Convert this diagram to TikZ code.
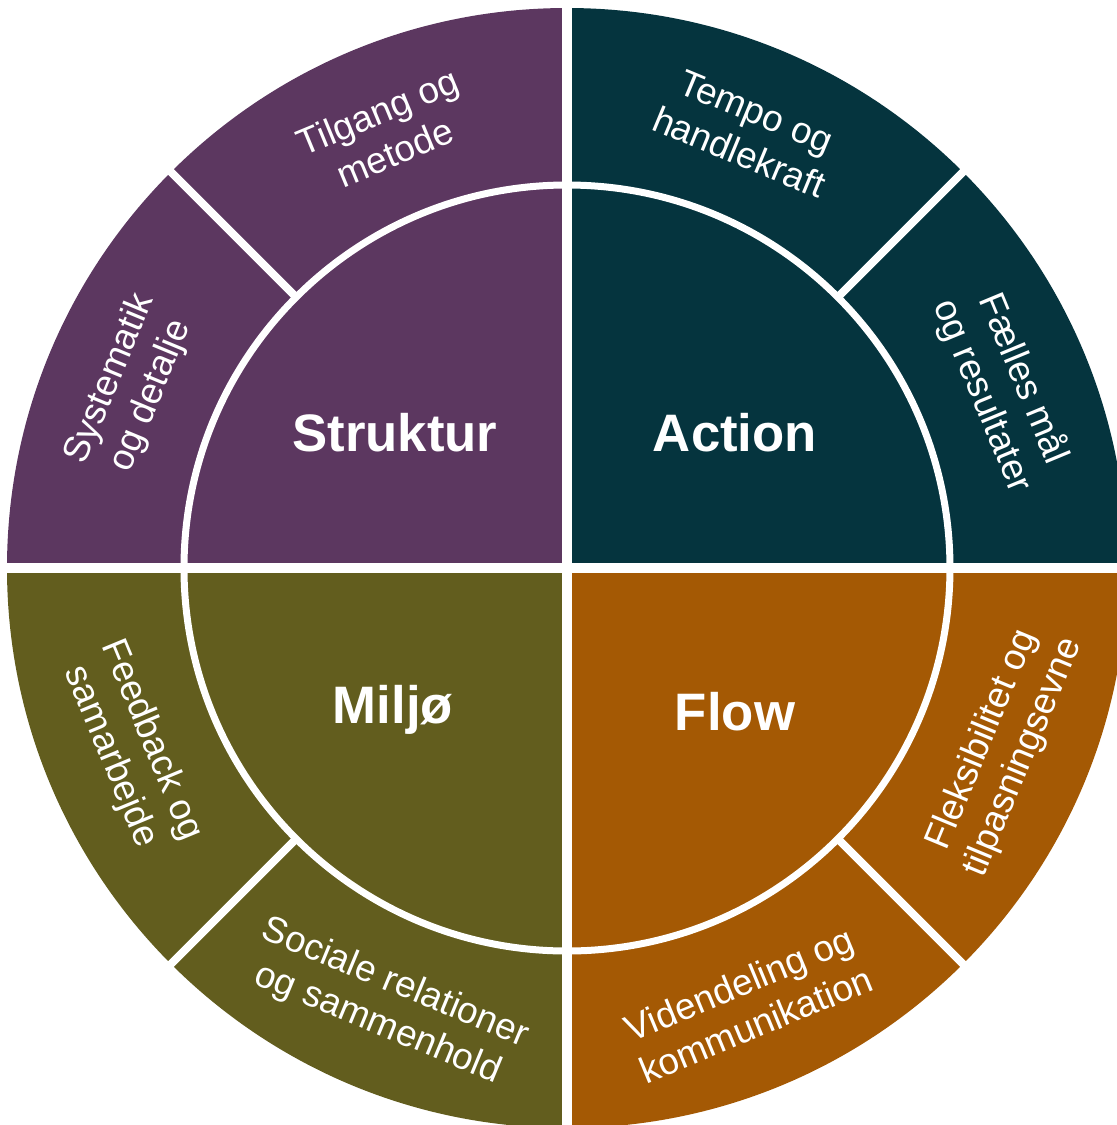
\documentclass[tikz,border=0pt]{standalone}
\usepackage{fontspec}
\setmainfont{Liberation Sans}
\usetikzlibrary{positioning}
\definecolor{strukturcol}{RGB}{92,55,96}
\definecolor{actioncol}{RGB}{5,52,62}
\definecolor{miljocol}{RGB}{98,93,30}
\definecolor{flowcol}{RGB}{164,89,4}

\begin{document}
\begin{tikzpicture}[
  core/.style={font=\fontsize{15}{18}\selectfont\bfseries, text=white, inner sep=0pt},
  seg/.style={font=\fontsize{10.5}{12.6}\selectfont, text=white, align=center, inner sep=0pt},
  ring/.style={draw=white, line width=0.7mm},
  gap/.style={draw=white, line width=0.95mm},
  split/.style={draw=white, line width=0.8mm},
]
\useasboundingbox (-5.67,-5.57) rectangle (5.50,5.68);
% quadrants
\fill[strukturcol] (0,0) -- (90:5.6) arc[start angle=90, end angle=180, radius=5.6] -- cycle;
\fill[actioncol]   (0,0) -- (0:5.6)  arc[start angle=0, end angle=90, radius=5.6] -- cycle;
\fill[miljocol]    (0,0) -- (180:5.6) arc[start angle=180, end angle=270, radius=5.6] -- cycle;
\fill[flowcol]     (0,0) -- (270:5.6) arc[start angle=270, end angle=360, radius=5.6] -- cycle;
% white separations
\draw[ring] (0,0) circle[radius=3.83];
\foreach \a in {0,90,180,270} \draw[gap] (0,0) -- (\a:5.7);
\foreach \a in {45,135,225,315} \draw[split] (\a:3.83) -- (\a:5.7);
% core labels
\node[core] (struktur) at (-1.72,1.35) {Struktur};
\node[core] (action)   at (1.68,1.35)  {Action};
\node[core] (miljo)    at (-1.74,-1.42) {Miljø};
\node[core] (flow)     at (1.68,-1.44) {Flow};
% outer labels
\node[seg, rotate=22.5]  (tilgang)    at (112.5:4.72) {Tilgang og\\metode};
\node[seg, rotate=67.5]  (systematik) at (157.5:4.72) {Systematik\\og detalje};
\node[seg, rotate=-22.5] (tempo)      at (67.5:4.72)  {Tempo og\\handlekraft};
\node[seg, rotate=-67.5] (faelles)    at (22.5:4.72)  {Fælles mål\\og resultater};
\node[seg, rotate=67.5]  (fleks)      at (-22.5:4.72) {Fleksibilitet og\\tilpasningsevne};
\node[seg, rotate=22.5]  (viden)      at (-67.5:4.72) {Videndeling og\\kommunikation};
\node[seg, rotate=-22.5] (sociale)    at (247.5:4.72) {Sociale relationer\\og sammenhold};
\node[seg, rotate=-67.5] (feedback)   at (202.5:4.72) {Feedback og\\samarbejde};
\end{tikzpicture}
\end{document}
